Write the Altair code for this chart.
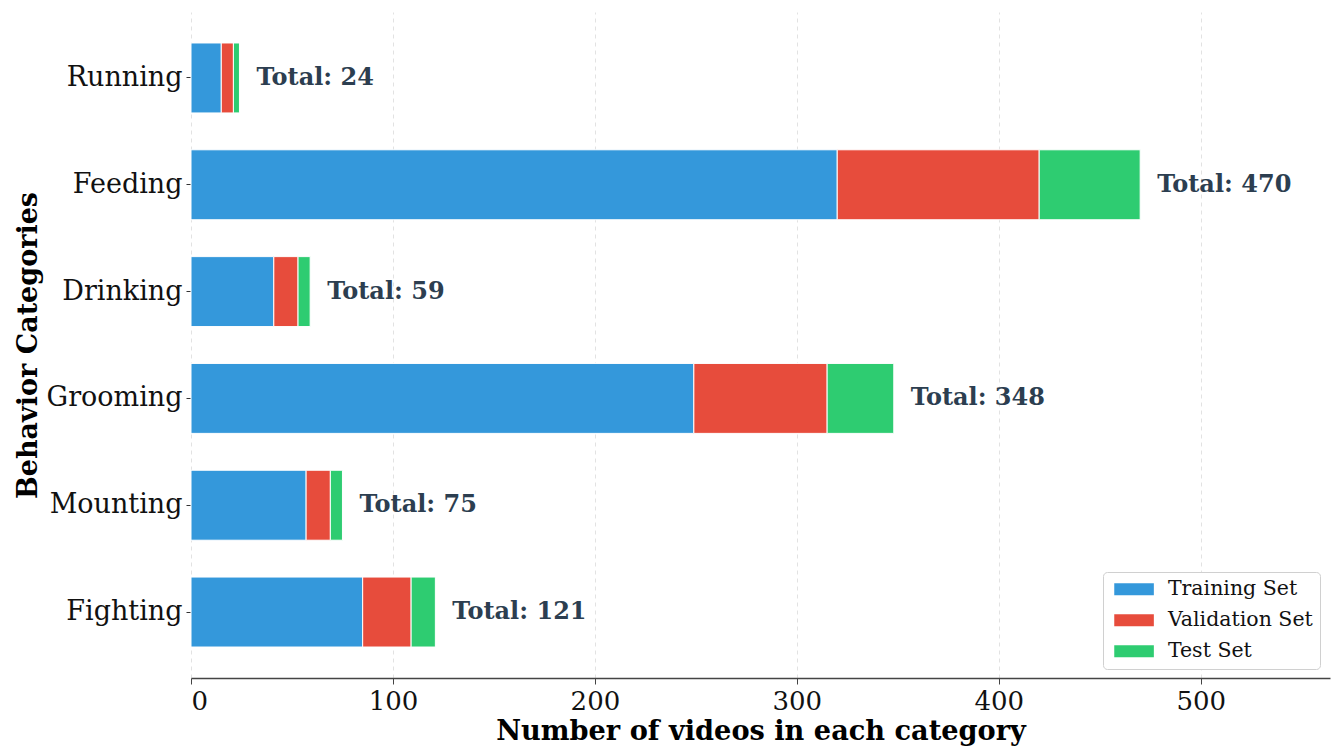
import altair as alt
import pandas as pd

categories = ["Running", "Feeding", "Drinking", "Grooming", "Mounting", "Fighting"]
training = [15, 320, 41, 249, 57, 85]
validation = [6, 100, 12, 66, 12, 24]
test = [3, 50, 6, 33, 6, 12]
splits = ["Training Set", "Validation Set", "Test Set"]
colors = ["#3498db", "#e74c3c", "#2ecc71"]
x_ticks = [0, 100, 200, 300, 400, 500]

rows = []
for i, c in enumerate(categories):
    for j, (s, vals) in enumerate(zip(splits, [training, validation, test])):
        rows.append({"category": c, "split": s, "order": j, "count": vals[i]})
df = pd.DataFrame(rows)
totals = pd.DataFrame({
    "category": categories,
    "total": [a + b + c for a, b, c in zip(training, validation, test)],
})
totals["label"] = ["Total: " + str(t) for t in totals["total"]]

FONT = "DejaVu Serif"
xmax = max(totals["total"]) * 1.2

y_enc = alt.Y("category:N", sort=categories,
              scale=alt.Scale(paddingInner=0.345, paddingOuter=0.29),
              axis=alt.Axis(title="Behavior Categories", titleFontSize=27,
                            titleFontWeight="bold", titleFont=FONT, titleColor="#000",
                            labelFont=FONT, labelFontSize=27, labelColor="#111",
                            domain=False, tickSize=5, tickColor="#333",
                            labelPadding=4, titlePadding=4, grid=False))

bars = alt.Chart(df).mark_bar(stroke="white", strokeWidth=1).encode(
    x=alt.X("count:Q", stack="zero",
            scale=alt.Scale(domain=[0, xmax], nice=False),
            axis=alt.Axis(title="Number of videos in each category", values=x_ticks,
                          titleFontSize=27.2, titleFontWeight="bold", titleFont=FONT,
                          titleColor="#000", labelFont=FONT, labelFontSize=26,
                          labelColor="#111", domainColor="#444", domainWidth=1.5,
                          tickColor="#444", tickSize=6, labelPadding=4, titlePadding=4,
                          grid=True, gridDash=[4, 4], gridColor="#e2e2e2",
                          gridWidth=1)),
    y=y_enc,
    color=alt.Color("split:N", sort=splits,
                    scale=alt.Scale(domain=splits, range=colors),
                    legend=alt.Legend(title=None, orient="none", legendX=912, legendY=560,
                                      labelFont=FONT, labelFontSize=20.5, labelColor="#111",
                                      symbolType="M-3.3,-1H3.3V1H-3.3Z", symbolSize=144,
                                      symbolStrokeWidth=0, symbolOffset=13.8,
                                      labelOffset=23.6, rowPadding=10,
                                      padding=7, fillColor="white", strokeColor="#d0d0d0",
                                      cornerRadius=4)),
    order=alt.Order("order:Q"),
)

labels = alt.Chart(totals).mark_text(align="left", baseline="middle", dx=17,
                                      font=FONT, fontSize=24, fontWeight="bold",
                                      color="#2c3e50").encode(
    x=alt.X("total:Q"),
    y=alt.Y("category:N", sort=categories),
    text="label:N",
)

chart = alt.layer(bars, labels).properties(
    width=1139, height=666,
    background="white",
    autosize=alt.AutoSizeParams(type="none"),
    padding={"left": 183, "top": 4, "right": 5, "bottom": 70},
).configure_view(strokeWidth=0, stroke="transparent")

chart.save("out.html", embed_options={"renderer": "svg", "actions": False})
